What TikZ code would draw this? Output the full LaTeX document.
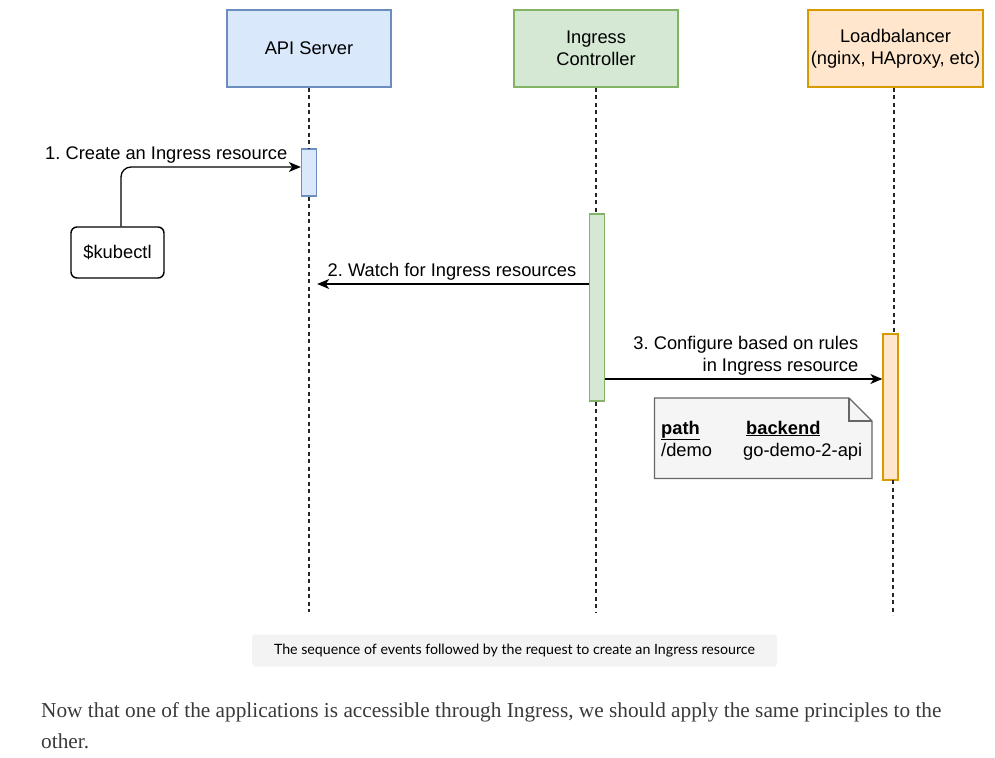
\documentclass[tikz,border=0pt]{standalone}
\usepackage{fontspec}
\setmainfont{Liberation Sans}
\newfontfamily\parafont{Liberation Serif}
\newfontfamily\capfont{Lato}
\usetikzlibrary{arrows.meta}
\frenchspacing
\definecolor{apifill}{HTML}{DAE8FC}
\definecolor{apidraw}{HTML}{6C8EBF}
\definecolor{icfill}{HTML}{D5E8D4}
\definecolor{icdraw}{HTML}{82B366}
\definecolor{lbfill}{HTML}{FFE6CC}
\definecolor{lbdraw}{HTML}{D79B00}
\definecolor{notefill}{HTML}{F5F5F5}
\definecolor{notedraw}{HTML}{666666}
\definecolor{capfill}{HTML}{F3F3F3}
\definecolor{paratext}{HTML}{3A3A3A}
\tikzset{
  x=1pt, y=-1pt,
  diafont/.style={font=\fontsize{18.3}{22}\selectfont\frenchspacing},
  actor/.style={draw, line width=1.4pt, minimum width=164pt, minimum height=77pt, align=center, inner sep=0pt, diafont},
  activation/.style={draw, line width=1.4pt, minimum width=15pt, inner sep=0pt},
  lifeline/.style={line width=1.3pt, dash pattern=on 4pt off 3.5pt, black!85},
  msg/.style={line width=1.3pt, -{Stealth[length=12pt,width=10pt,inset=3.5pt]}},
  msglabel/.style={diafont, inner sep=0pt, align=right},
}
\begin{document}
\begin{tikzpicture}
\useasboundingbox (0,0) rectangle (995,757);
% actors
\node[actor, fill=apifill, draw=apidraw] (api) at (309,48.5) {API Server};
\node[actor, fill=icfill, draw=icdraw] (ic) at (596,48.5) {Ingress\\Controller};
\node[actor, fill=lbfill, draw=lbdraw, minimum width=175pt] (lb) at (895.5,48.5) {Loadbalancer\\(nginx, HAproxy, etc)};
% lifeline ends
\coordinate (apiend) at (309,612);
\coordinate (icend) at (596,612);
\coordinate (lbend) at (893,615);
% activations
\node[activation, fill=apifill, draw=apidraw, minimum height=47pt] (apiact) at (309,172.5) {};
\node[activation, fill=icfill, draw=icdraw, minimum height=187pt] (icact) at (597,307.5) {};
\node[activation, fill=lbfill, draw=lbdraw, minimum height=146pt] (lbact) at (890.5,407) {};
% lifelines
\draw[lifeline] (api.south) -- (apiact.north);
\draw[lifeline] (apiact.south) -- (apiend);
\draw[lifeline] (ic.south) -- (ic.south |- icact.north);
\draw[lifeline] (ic.south |- icact.south) -- (icend);
\draw[lifeline] (ic.south -| 894,0) -- (894,334);
\draw[lifeline] (893,480) -- (lbend);
% kubectl
\node[draw, line width=1.4pt, rounded corners=6pt, minimum width=93pt, minimum height=51pt, diafont] (kubectl) at (117.5,252.5) {\$kubectl};
\coordinate (m1) at (121,167);
\draw[msg, rounded corners=10pt] (kubectl.north -| m1) -- (m1) -- (apiact.west |- m1);
\node[msglabel, anchor=base east] (l1) at (287.5,159) {1. Create an Ingress resource};
% message 2
\draw[msg] (icact.west |- 0,284) -- (apiact.east |- 0,284);
\node[msglabel, anchor=base west] (l2) at (327.5,276) {2. Watch for Ingress resources};
% message 3
\draw[msg] (icact.east |- 0,379) -- (lbact.west |- 0,379);
\node[msglabel, anchor=base east] (l3) at (858.5,371) {3. Configure based on rules\\in Ingress resource};
% note
\draw[line width=1.4pt, draw=notedraw, fill=notefill] (654.5,398) -- (849,398) -- (872,421) -- (872,478.5) -- (654.5,478.5) -- cycle;
\draw[line width=1.4pt, draw=notedraw] (849,398) -- (849,421) -- (872,421);
\node[diafont, anchor=base west, inner sep=0pt, align=left] (note) at (661,456) {%
  \rlap{\underline{\textbf{path}}}\hspace{85pt}\underline{\textbf{backend}}\\
  \rlap{/demo}\hspace{82pt}go-demo-2-api};
% caption
\node[fill=capfill, rounded corners=3pt, minimum width=525pt, minimum height=32pt, inner sep=0pt, font=\capfont\fontsize{14.2}{16}\selectfont] (cap) at (514.5,650.5) {The sequence of events followed by the request to create an Ingress resource};
% paragraph
\node[anchor=base west, inner sep=0pt, align=left, text=paratext, font=\parafont\fontsize{21.3}{31}\selectfont] (para) at (41,748) {Now that one of the applications is accessible through Ingress, we should apply the same principles to the\\other.};
\end{tikzpicture}
\end{document}
